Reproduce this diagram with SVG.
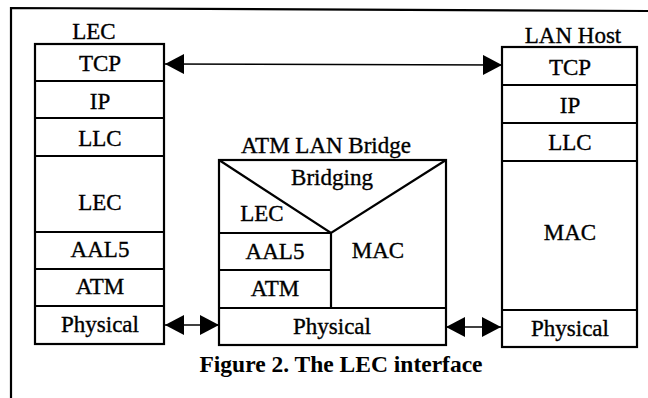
<svg xmlns="http://www.w3.org/2000/svg" width="648" height="398" viewBox="0 0 648 398">
  <style>
    .box { fill: #fff; stroke: #000; stroke-width: 2.2; }
    .ln { fill: none; stroke: #000; stroke-width: 2.2; }
    .lbl { font-family: "Liberation Serif", "Times New Roman", serif; font-size: 23px; fill: #000; stroke: #000; stroke-width: 0.35; text-anchor: middle; }
    .cap { font-family: "Liberation Serif", "Times New Roman", serif; font-size: 23.5px; font-weight: bold; fill: #000; text-anchor: middle; }
    .conn { fill: none; stroke: #000; stroke-width: 1.3; }
  </style>
  <defs>
    <marker id="head" viewBox="0 0 19 20" refX="19" refY="10" markerWidth="19" markerHeight="20" markerUnits="userSpaceOnUse" orient="auto-start-reverse">
      <path d="M0,0 L19,10 L0,20 Z" fill="#000"/>
    </marker>
  </defs>
  <rect width="648" height="398" fill="#fff"/>

  <!-- page frame -->
  <path class="ln" d="M11,398 V8 L648,11" stroke-width="2"/>

  <!-- LEC protocol stack -->
  <g id="lec-stack">
    <rect class="box" x="35" y="44" width="129" height="300"/>
    <path class="ln" d="M35,81 H164 M35,118 H164 M35,156 H164 M35,232 H164 M35,269 H164 M35,306 H164"/>
    <g class="lbl">
      <text x="94" y="39">LEC</text>
      <text x="100" y="71">TCP</text>
      <text x="100" y="109">IP</text>
      <text x="100" y="146">LLC</text>
      <text x="100" y="210">LEC</text>
      <text x="100" y="257">AAL5</text>
      <text x="100" y="294">ATM</text>
      <text x="100" y="332">Physical</text>
    </g>
  </g>

  <!-- ATM LAN Bridge -->
  <g id="bridge">
    <rect class="box" x="219" y="160" width="227" height="185"/>
    <path class="ln" d="M219,160 L331,233 L446,160 M219,233 H331 V308 M219,270 H331 M219,308 H446"/>
    <g class="lbl">
      <text x="326" y="153">ATM LAN Bridge</text>
      <text x="332" y="185">Bridging</text>
      <text x="262" y="221">LEC</text>
      <text x="275" y="259">AAL5</text>
      <text x="275" y="296">ATM</text>
      <text x="378" y="258">MAC</text>
      <text x="332" y="334">Physical</text>
    </g>
  </g>

  <!-- LAN Host protocol stack -->
  <g id="lan-host-stack">
    <rect class="box" x="502" y="47" width="135" height="300"/>
    <path class="ln" d="M502,85 H637 M502,123 H637 M502,161 H637 M502,310 H637"/>
    <g class="lbl">
      <text x="573" y="43">LAN Host</text>
      <text x="570" y="75">TCP</text>
      <text x="570" y="113">IP</text>
      <text x="570" y="150">LLC</text>
      <text x="570" y="240">MAC</text>
      <text x="570" y="336">Physical</text>
    </g>
  </g>

  <!-- connectors -->
  <g id="connectors">
    <line class="conn" x1="165" y1="64" x2="502" y2="65" marker-start="url(#head)" marker-end="url(#head)"/>
    <line class="conn" x1="165" y1="325" x2="219" y2="325" marker-start="url(#head)" marker-end="url(#head)"/>
    <line class="conn" x1="446" y1="327" x2="501" y2="327" marker-start="url(#head)" marker-end="url(#head)"/>
  </g>

  <text class="cap" x="341" y="372">Figure 2. The LEC interface</text>
</svg>
